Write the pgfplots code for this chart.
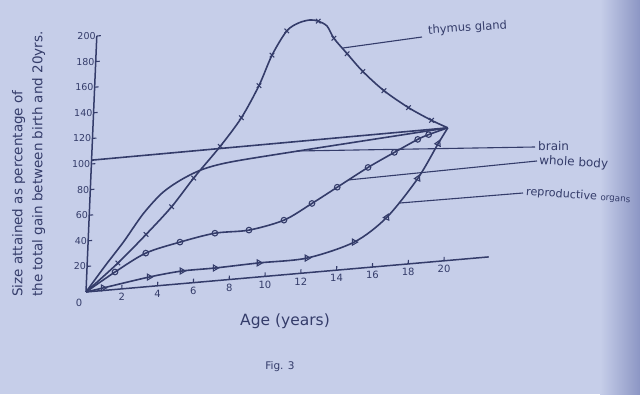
\documentclass[border=0pt]{standalone}
\usepackage{pgfplots}
\pgfplotsset{compat=1.18}
\usepackage{fontspec}
\setmainfont{DejaVu Sans}
\definecolor{paper}{RGB}{198,206,233}
\definecolor{ink}{RGB}{52,60,106}
\definecolor{shadow}{RGB}{140,150,196}

\pgfplotstableread{
a v
0 0
1.72 20.5
3.23 41
4.6 61
5.77 82
7.18 105
8.3 126
9.21 150
9.87 173
10.64 191
11.3 196.5
11.93 198
12.38 196.5
12.89 192
13.3 182
14.08 169
15.0 154
16.23 137.5
17.65 122.5
18.97 111
19.9 104
}\thymusline
\pgfplotstableread{
a v
1.72 20.5
3.23 41
4.6 61
5.77 82
7.18 105
8.3 126
9.21 150
9.87 173
10.64 191
12.38 196.5
13.3 182
14.08 169
15.0 154
16.23 137.5
17.65 122.5
18.97 111
}\thymusmarks
\pgfplotstableread{
a v
0 0
1.58 13.7
3.26 26.4
5.15 32.7
7.09 37.3
8.99 37.4
10.93 42.8
12.46 54
13.84 65
15.52 78.4
16.96 88.4
18.24 97
18.84 100
19.9 104
}\bodyline
\pgfplotstableread{
a v
1.58 13.7
3.26 26.4
5.15 32.7
7.09 37.3
8.99 37.4
10.93 42.8
12.46 54
13.84 65
15.52 78.4
16.96 88.4
18.24 97
18.84 100
}\bodymarks
\pgfplotstableread{
a v
0 0
0.95 2
3.5 7.4
5.33 9.9
7.18 10
9.63 11
12.31 11.5
14.92 20.8
16.69 38
18.34 66.5
19.4 92.4
19.9 104
}\reproline
\pgfplotstableread{
a v
0.95 2
3.5 7.4
5.33 9.9
7.18 10
9.63 11
12.31 11.5
14.92 20.8
}\repromarksA
\pgfplotstableread{
a v
16.69 38
18.34 66.5
19.4 92.4
}\repromarksB
\pgfplotstableread{
a v
0 0
1 19
2 37
3 57
4 72
5 81
6.2 88
7.77 92
11.5 96
19.9 104
}\brainline

\begin{document}
\begin{tikzpicture}[x=1pt,y=1pt,color=ink]
\path[use as bounding box] (0,0) rectangle (640,394);
\fill[paper] (0,0) rectangle (640,394);
\shade[left color=paper, right color=shadow] (600,0) rectangle (640,394);
\begin{axis}[
  anchor=origin, at={(86pt,102pt)},
  x={(17.9pt,1.56pt)}, y={(0.054pt,1.28pt)},
  xmin=0, xmax=22.5, ymin=0, ymax=200,
  axis x line=bottom, axis y line=left,
  axis line style={ink, line width=1.5pt, -},
  xtick={2,4,...,20}, ytick={20,40,...,200},
  tick align=inside, major tick length=4pt,
  tick style={ink, line width=1.1pt},
  xticklabel style={font=\fontsize{10}{12}\selectfont, text=ink, anchor=north, yshift=-1pt},
  yticklabel style={font=\fontsize{9.5}{12}\selectfont, text=ink, anchor=east, inner sep=1pt},
  /pgf/number format/assume math mode=true,
  clip=false,
  every axis plot/.append style={ink, line width=1.6pt},
]
\addplot[no marks] coordinates {(0,103) (19.9,104)};
\addplot[smooth, no marks] table[x=a,y=v] {\brainline};
\addplot[smooth, no marks] table[x=a,y=v] {\thymusline};
\addplot[only marks, mark=x, mark size=3.2pt, mark options={line width=1.1pt}] table[x=a,y=v] {\thymusmarks};
\addplot[smooth, no marks] table[x=a,y=v] {\bodyline};
\addplot[only marks, mark=o, mark size=2.8pt, mark options={line width=1.1pt}] table[x=a,y=v] {\bodymarks};
\addplot[smooth, no marks] table[x=a,y=v] {\reproline};
\addplot[only marks, mark=triangle, mark size=3.4pt, mark options={line width=1.1pt, rotate=-90}] table[x=a,y=v] {\repromarksA};
\addplot[only marks, mark=triangle, mark size=3.4pt, mark options={line width=1.1pt, rotate=-25}] table[x=a,y=v] {\repromarksB};
\end{axis}
% leader lines
\draw[line width=1.1pt] (343,346) -- (422,357);
\draw[line width=1.1pt] (297,243) -- (535,247);
\draw[line width=1.1pt] (348,214) -- (537,233);
\draw[line width=1.1pt] (400,191) -- (523,201);
% labels
\node[anchor=west, rotate=4, inner sep=1pt, font=\fontsize{11.5}{13}\selectfont] at (427,363) {thymus gland};
\node[anchor=west, inner sep=1pt, font=\fontsize{12}{13}\selectfont] at (537,248) {brain};
\node[anchor=west, rotate=-3, inner sep=1pt, font=\fontsize{12}{13}\selectfont] at (538,233) {whole body};
\node[anchor=west, rotate=-4, inner sep=1pt, font=\fontsize{11.2}{13}\selectfont] at (525,202) {reproductive {\fontsize{8.8}{10}\selectfont organs}};
\node[font=\fontsize{10}{12}\selectfont] at (79,91) {0};
\node[rotate=90, anchor=north west, align=left, inner sep=0pt, font=\fontsize{13.5}{20}\selectfont] at (12,97) {Size attained as percentage of\\the total gain between birth and 20yrs.};
\node[font=\fontsize{15.5}{18}\selectfont] at (285,73) {Age (years)};
\node[font=\fontsize{10.5}{12}\selectfont] at (280,27) {Fig. 3};
\end{tikzpicture}
\end{document}
